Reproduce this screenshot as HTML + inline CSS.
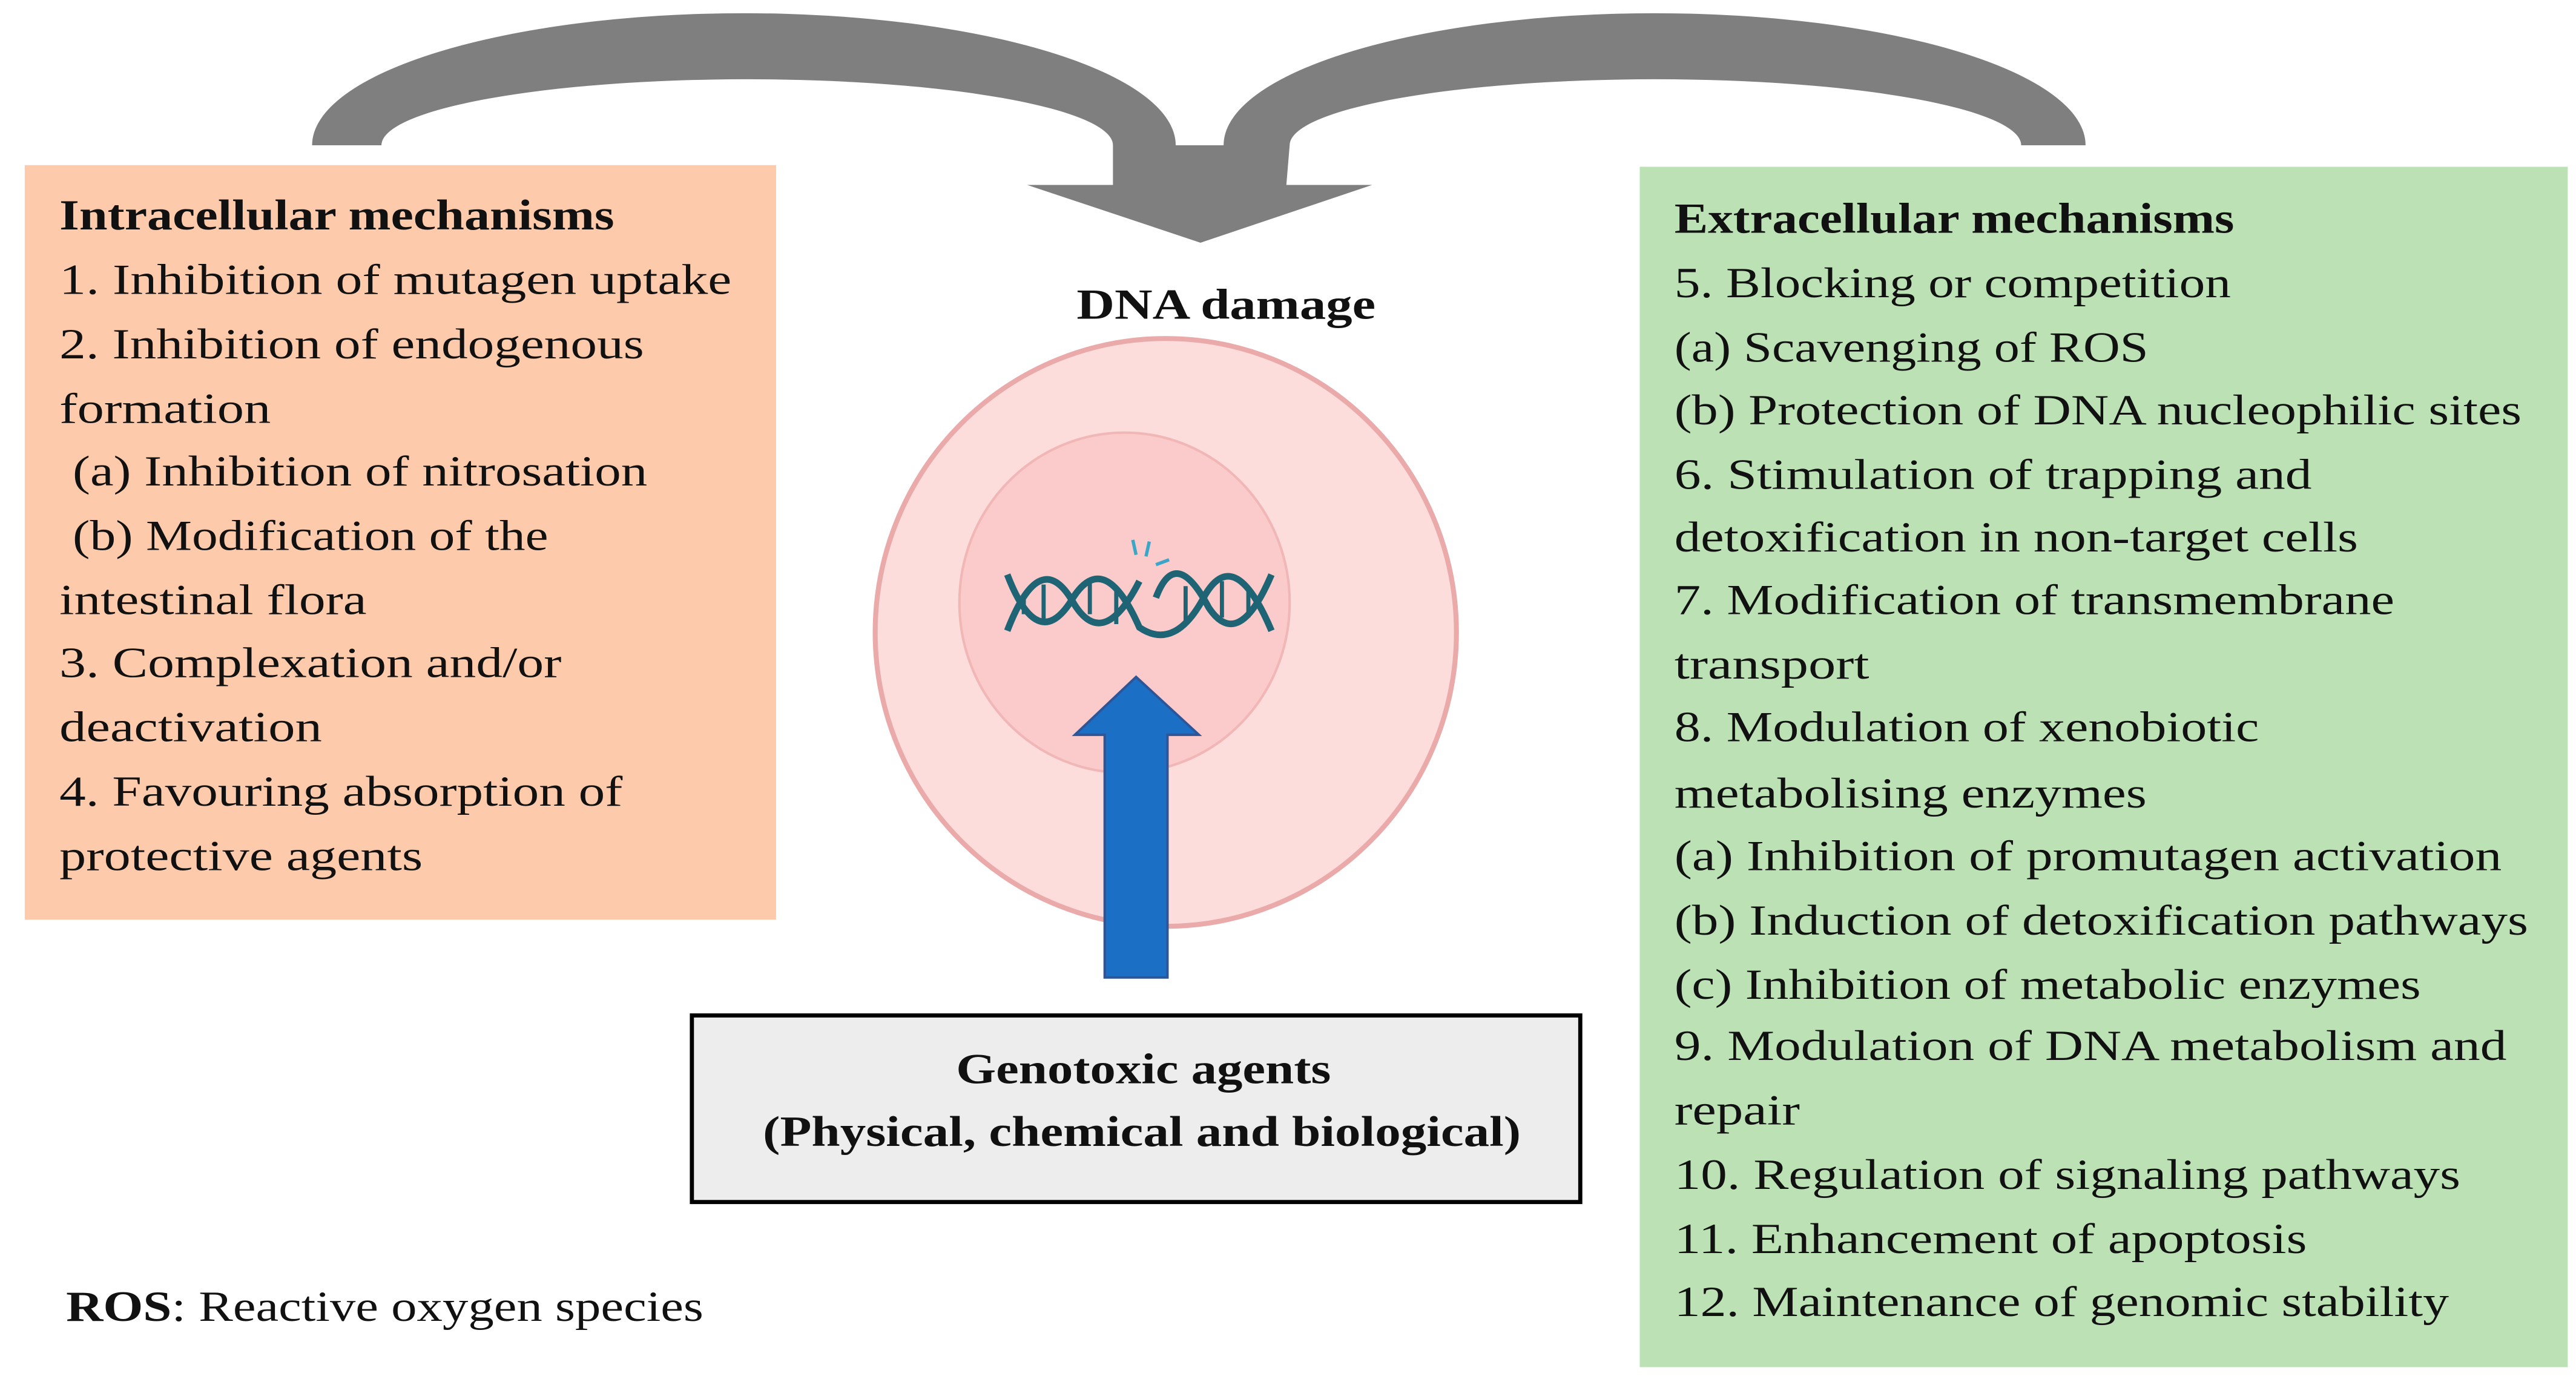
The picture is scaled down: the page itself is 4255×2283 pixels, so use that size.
<!DOCTYPE html>
<html><head><meta charset="utf-8"><style>
html,body{margin:0;padding:0;background:#fff;}
svg{display:block;}
text{font-family:"Liberation Serif",serif;fill:#111;font-size:26px;}
</style></head><body>
<svg width="4255" height="2283" viewBox="0 0 1560 837" preserveAspectRatio="none" xmlns="http://www.w3.org/2000/svg">
<rect x="0" y="0" width="1560" height="837" fill="#fff"/>
<!-- gray arrows -->
<path d="M189,88 A261.5,80 0 0 1 712,88 L741,88 A261,80 0 0 1 1263,88 L1224,88 A221.5,40 0 0 0 781,88 L779,112 L831,112 L727,147 L622,112 L674,112 L674,88 A221.5,40 0 0 0 231,88 Z" fill="#7f7f7f"/>
<!-- boxes -->
<rect x="15" y="100" width="455" height="457" fill="#fdcbab"/>
<rect x="993" y="101" width="562" height="727" fill="#bbe1b5"/>
<rect x="419" y="615" width="538" height="113" fill="#ededed" stroke="#000" stroke-width="2.5"/>
<!-- cell -->
<ellipse cx="706" cy="383" rx="176" ry="178" fill="#fddcdc" stroke="#eaaaaa" stroke-width="3"/>
<ellipse cx="681" cy="365" rx="100" ry="103" fill="#fbcaca" stroke="#f1b6b6" stroke-width="1.5"/>
<!-- DNA -->
<g fill="none" stroke="#1f6474" stroke-width="4">
<path d="M610,348 Q628,395 648,365 Q668,330 690,380 Q712,395 730,360 Q748,330 770,382"/>
<path d="M610,382 Q630,330 650,365 Q668,395 690,352 M700,362 Q712,330 732,368 Q750,395 770,348"/>
<path d="M620,362 V372 M632,354 V378 M660,352 V372 M676,355 V378 M718,355 V376 M740,352 V374 M756,356 V374" stroke-width="2.5"/>
</g>
<g stroke="#3aa7c8" stroke-width="2"><path d="M686,327 L688,336 M696,328 L694,337 M700,342 L708,339"/></g>
<!-- blue arrow -->
<path d="M669,592 L669,445 L651,445 L688,410 L726,445 L707,445 L707,592 Z" fill="#1b70c6" stroke="#2e5597" stroke-width="1.5"/>
<!-- texts -->
<text x="652" y="193" textLength="181" lengthAdjust="spacingAndGlyphs" font-weight="bold">DNA damage</text>
<text x="579" y="656" textLength="227" lengthAdjust="spacingAndGlyphs" font-weight="bold">Genotoxic agents</text>
<text x="462" y="694" textLength="459" lengthAdjust="spacingAndGlyphs" font-weight="bold">(Physical, chemical and biological)</text>
<text x="40" y="800" textLength="386" lengthAdjust="spacingAndGlyphs"><tspan font-weight="bold">ROS</tspan>: Reactive oxygen species</text>

<g>
<text x="36" y="139" textLength="336" lengthAdjust="spacingAndGlyphs" font-weight="bold">Intracellular mechanisms</text>
<text x="36" y="178" textLength="407" lengthAdjust="spacingAndGlyphs">1. Inhibition of mutagen uptake</text>
<text x="36" y="217" textLength="354" lengthAdjust="spacingAndGlyphs">2. Inhibition of endogenous</text>
<text x="36" y="256" textLength="128" lengthAdjust="spacingAndGlyphs">formation</text>
<text x="44" y="294" textLength="348" lengthAdjust="spacingAndGlyphs">(a) Inhibition of nitrosation</text>
<text x="44" y="333" textLength="288" lengthAdjust="spacingAndGlyphs">(b) Modification of the</text>
<text x="36" y="372" textLength="186" lengthAdjust="spacingAndGlyphs">intestinal flora</text>
<text x="36" y="410" textLength="304" lengthAdjust="spacingAndGlyphs">3. Complexation and/or</text>
<text x="36" y="449" textLength="159" lengthAdjust="spacingAndGlyphs">deactivation</text>
<text x="36" y="488" textLength="341" lengthAdjust="spacingAndGlyphs">4. Favouring absorption of</text>
<text x="36" y="527" textLength="220" lengthAdjust="spacingAndGlyphs">protective agents</text>
</g>
<g>
<text x="1014" y="141" textLength="339" lengthAdjust="spacingAndGlyphs" font-weight="bold">Extracellular mechanisms</text>
<text x="1014" y="180" textLength="337" lengthAdjust="spacingAndGlyphs">5. Blocking or competition</text>
<text x="1014" y="219" textLength="287" lengthAdjust="spacingAndGlyphs">(a) Scavenging of ROS</text>
<text x="1014" y="257" textLength="513" lengthAdjust="spacingAndGlyphs">(b) Protection of DNA nucleophilic sites</text>
<text x="1014" y="296" textLength="386" lengthAdjust="spacingAndGlyphs">6. Stimulation of trapping and</text>
<text x="1014" y="334" textLength="414" lengthAdjust="spacingAndGlyphs">detoxification in non-target cells</text>
<text x="1014" y="372" textLength="436" lengthAdjust="spacingAndGlyphs">7. Modification of transmembrane</text>
<text x="1014" y="411" textLength="118" lengthAdjust="spacingAndGlyphs">transport</text>
<text x="1014" y="449" textLength="354" lengthAdjust="spacingAndGlyphs">8. Modulation of xenobiotic</text>
<text x="1014" y="489" textLength="286" lengthAdjust="spacingAndGlyphs">metabolising enzymes</text>
<text x="1014" y="527" textLength="501" lengthAdjust="spacingAndGlyphs">(a) Inhibition of promutagen activation</text>
<text x="1014" y="566" textLength="517" lengthAdjust="spacingAndGlyphs">(b) Induction of detoxification pathways</text>
<text x="1014" y="605" textLength="452" lengthAdjust="spacingAndGlyphs">(c) Inhibition of metabolic enzymes</text>
<text x="1014" y="642" textLength="504" lengthAdjust="spacingAndGlyphs">9. Modulation of DNA metabolism and</text>
<text x="1014" y="681" textLength="76" lengthAdjust="spacingAndGlyphs">repair</text>
<text x="1014" y="720" textLength="476" lengthAdjust="spacingAndGlyphs">10. Regulation of signaling pathways</text>
<text x="1014" y="759" textLength="383" lengthAdjust="spacingAndGlyphs">11. Enhancement of apoptosis</text>
<text x="1014" y="797" textLength="469" lengthAdjust="spacingAndGlyphs">12. Maintenance of genomic stability</text>
</g>
</svg>
</body></html>
